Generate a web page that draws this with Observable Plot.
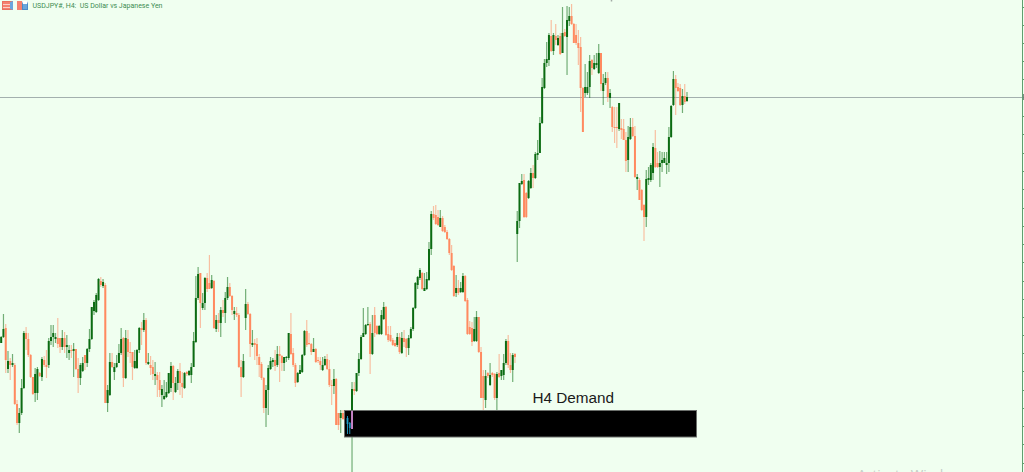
<!DOCTYPE html>
<html><head><meta charset="utf-8">
<script src="https://cdn.jsdelivr.net/npm/d3@7"></script>
<script src="https://cdn.jsdelivr.net/npm/@observablehq/plot@0.6"></script>
<style>
html,body{margin:0;padding:0;background:#f0fff0;overflow:hidden}
#wrap{position:relative;width:1024px;height:472px}
svg{display:block}
.ic{position:absolute;top:1px;height:9px;box-sizing:border-box}
</style></head><body>
<div id="wrap">
<div class="ic" style="left:2px;width:11px;background:repeating-linear-gradient(180deg,#f4806e 0 2px,#fbd0c6 2px 3px);border:1px solid #e8705e;border-right:3px solid #6aa6dc"></div>
<div class="ic" style="left:17px;width:5px;background:#f4806e"></div>
<div class="ic" style="left:22px;width:6px;background:#6aa6dc;border:1px solid #4a8ac8;border-top-width:3px;border-top-color:#fff"></div>
</div>
<script>
// Bars are [open, close, high, low] in chart price points.
const barsA = [
[129,135,136,129],[135,143,158,134],[144,112,148,99],[103,111,121,99],[111,107,114,92],[107,109,118,105],[107,68,109,67],[68,49,72,47],[49,59,64,39],[59,84,93,57],
[84,139,141,83],[139,133,145,122],[133,117,139,115],[117,95,118,94],[95,78,95,77],[79,98,104,70],[79,103,105,72],[99,96,100,95],[95,113,115,91],[112,107,116,105],
[107,105,122,94],[107,131,134,104],[131,135,147,127],[135,139,147,125],[133,135,139,129],[134,128,154,124],[134,125,134,119],[125,134,142,122],[134,125,140,119],[125,127,137,114],
[119,122,127,112],[122,121,127,114],[121,123,129,95],[123,103,123,102],[103,94,114,79],[94,107,109,87],[101,109,115,100],[117,109,117,102],[109,123,124,105],[123,133,143,120],
[133,165,165,132],[161,170,172,157],[160,177,179,159],[172,193,194,171],[191,187,195,185],[186,190,193,184],[187,69,189,69],[69,82,87,60],[77,110,119,76],[110,105,119,104],
[100,105,109,92],[105,109,117,104],[109,119,128,109],[119,133,144,117],[134,94,135,85],[94,134,142,93],[133,120,142,115],[120,119,130,109],[120,105,120,92],[104,111,122,103],
[104,122,123,103],[122,144,145,119],[144,142,150,127],[142,152,159,140],[152,109,154,107],[108,110,119,107],[107,104,116,97],[105,98,112,92],[96,98,110,87],[97,92,100,75],
[92,82,100,75],[77,83,87,65],[73,76,92,72],[75,80,90,74],[79,99,99,78],[84,106,110,80],[106,89,107,72],[80,89,95,79],[89,101,103,82],[101,89,109,77]
];
const barsB = [
[89,85,100,74],[84,99,100,83],[100,98,101,96],[97,101,102,96],[97,105,109,89],[105,131,140,105],[130,174,196,129],[174,198,205,172],[199,169,199,144],[164,169,179,162],
[169,194,195,162],[194,183,199,180],[189,183,217,183],[184,192,197,183],[191,144,192,143],[143,152,157,140],[152,149,159,140],[149,162,165,135],[162,159,172,155],[159,174,180,149],
[174,185,195,172],[185,176,189,175],[176,162,177,157],[158,161,165,152],[159,157,165,155],[157,105,159,104],[105,95,112,75],[95,111,118,94],[154,168,183,142],[168,158,170,157],
[158,128,159,115],[127,129,142,125],[129,127,133,112],[128,116,134,107],[115,107,118,95],[108,94,110,92],[94,64,95,59],[64,82,87,45],[82,104,107,57],[103,111,115,102],
[110,112,114,105],[112,106,122,101],[107,118,126,105],[118,116,126,90],[116,109,117,101],[109,115,115,101],[114,115,116,110],[114,139,139,112],[138,118,159,117],[119,107,124,105],
[107,89,109,85],[90,99,100,89],[98,102,107,98],[100,117,118,99],[117,141,142,116],[141,127,152,125],[129,128,139,127],[128,120,129,117],[120,123,134,120],[123,110,124,109],
[112,111,115,109],[111,107,115,102],[102,107,115,101],[107,113,116,106],[113,103,118,102],[103,87,112,85],[87,86,92,67],[86,93,103,78],[93,47,94,47],[59,47,59,42],
[54,59,62,39],[59,53,62,52],[47,56,60,42],[48,54,56,38],[44,49,50,38]
];
const barsC = [
[44,83,90,0],[83,81,90,77],[81,99,99,80],[99,113,119,96],[113,135,137,112],[135,139,164,135],[138,147,148,137],[147,148,165,146],[148,118,150,98],[118,139,157,117],
[157,139,165,135],[146,138,147,137],[138,146,147,137],[138,157,162,137],[153,165,170,152],[165,137,166,136],[138,132,146,130],[137,131,146,130],[132,127,134,126],[129,126,132,125],
[127,135,139,125],[135,120,139,118],[119,134,140,118],[134,130,142,125],[133,124,134,115],[124,134,137,117],[134,143,145,133],[143,164,165,141],[164,189,190,163],[187,195,196,183],
[194,202,204,192],[199,183,200,182],[181,184,199,181],[183,193,200,182],[192,223,230,191],[223,258,261,217],[258,254,266,252],[257,248,267,247],[255,247,262,246],[245,254,262,245],
[254,241,256,240],[245,240,247,239],[240,233,242,232],[233,219,234,217],[219,202,227,201],[206,176,207,175],[179,184,197,175],[184,179,192,177],[180,184,190,179],[180,196,199,179],
[196,171,197,170],[172,138,174,137],[145,138,151,137],[144,130,150,126],[131,143,155,130],[131,155,161,130],[155,120,155,119],[120,74,125,74],[96,74,102,62],[72,96,102,64],
[99,96,100,94],[87,97,109,86],[99,97,100,95],[98,74,99,72],[74,98,100,61],[99,95,118,94],[96,102,102,92],[97,109,118,92],[109,131,133,107],[131,107,137,104],
[107,102,119,99],[102,117,119,90],[118,115,119,109]
];
const barsD = [
[238,251,261,210],[251,289,289,244],[288,291,298,287],[292,255,298,254],[279,255,280,254],[274,291,292,273],[284,299,304,283],[299,294,307,284],[294,318,320,293],[317,319,332,312],
[319,349,355,319],[349,385,394,348],[384,409,413,383],[409,413,430,405],[412,437,439,406],[436,421,452,420],[421,437,439,417],[436,432,448,427],[427,434,437,426],[436,418,439,417],
[419,439,465,419],[440,436,443,435],[435,452,466,397],[451,456,465,446],[456,448,468,447],[448,429,449,429],[437,429,448,427],[429,424,442,407],[425,384,435,360],[384,340,385,340],
[379,385,408,375],[379,385,400,377],[385,411,417,374],[412,404,413,397],[403,409,417,402],[407,409,419,404],[399,419,428,398],[419,388,419,381],[381,389,398,367],[389,394,400,387],
[394,375,400,370],[374,379,383,364],[365,345,366,340],[345,344,365,329],[345,344,365,324],[343,369,369,341],[344,342,353,333],[343,332,353,332],[332,311,340,300],[312,335,346,300],
[333,345,354,332],[345,336,354,335],[336,295,346,294],[293,295,298,282],[292,272,294,272],[282,262,283,261],[267,255,268,231],[255,293,302,245],[292,294,305,287],[292,307,309,290],
[299,325,329,292],[324,305,342,304],[309,305,320,304],[305,309,321,285],[309,312,320,300],[309,314,320,309],[307,309,320,298],[309,335,345,300],[335,366,367,334],[367,393,401,366],
[393,384,397,357],[385,381,389,380],[384,367,388,366],[367,376,383,359],[376,370,388,368],[371,375,380,370]
];
const axisTicks = [465,447,429,411,393,375,356,338,319,301,283,264,246,228,210,191,173,155,137,119,101,82,64,46,28,9];
const currentPrice = 375;
const zoneLow = 35, zoneHigh = 61.5;
const labelText = "H4 Demand", headerText = "USDJPY#, H4:  US Dollar vs Japanese Yen", watermark = "Activate Windows";

const bars = [...barsA, ...barsB, ...barsC, ...barsD].map(([open, close, high, low], i) => ({
  i, open, close, high, low, dir: close >= open ? "up" : "down"
}));
const big = barsA.length + barsB.length;       // bar whose long tail pierces the demand zone
const inZone = [
  {i: big - 2, top: 56, bottom: 38, c: "#1d8fb5", w: 1},
  {i: big - 2, top: 54, bottom: 48, c: "#1d9fc8", w: 1.8},
  {i: big - 1, top: 50, bottom: 38, c: "#1d8fb5", w: 1},
  {i: big - 1, top: 49, bottom: 44, c: "#1d8fb5", w: 1.8},
  {i: big, top: 61, bottom: 43, c: "#d88fd8", w: 1.8}
];
const step = 685.8 / (bars.length - 1);
const barX = px => (px - 0.7) / step;

const chart = Plot.plot({
  width: 1024, height: 472,
  marginTop: 0, marginBottom: 0, marginLeft: 0, marginRight: 2,
  style: {background: "#f0fff0"},
  x: {domain: [barX(0), barX(1022)], axis: null},
  y: {domain: [0, 472], axis: null},
  color: {domain: ["up", "down"], range: ["#0b6b12", "#ff8a60"]},
  marks: [
    Plot.ruleY([currentPrice], {stroke: "#a3b0ae", strokeWidth: 1}),
    Plot.ruleX(bars, {x: "i", y1: "low", y2: "high", stroke: "dir", strokeWidth: 1.2, strokeOpacity: 0.55}),
    Plot.ruleX(bars, {x: "i", y1: "open", y2: "close", stroke: "dir", strokeWidth: 2}),
    Plot.rect([{}], {x1: barX(344.5), x2: barX(696.5), y1: zoneLow, y2: zoneHigh, fill: "#000", stroke: "#6b6f6b", strokeWidth: 1}),
    Plot.ruleX(inZone, {x: "i", y1: "bottom", y2: "top", stroke: d => d.c, strokeWidth: d => d.w}),
    Plot.text([labelText], {x: barX(532), y: 74, textAnchor: "start", fontFamily: "Liberation Sans", fontSize: 15.3, fill: "#1a1a1a"}),
    Plot.text([headerText], {x: barX(32), y: 467, textAnchor: "start", fontFamily: "Roboto", fontSize: 7, fill: "#3c8c50"}),
    Plot.text([watermark], {x: barX(857), y: -2, textAnchor: "start", fontFamily: "Open Sans", fontSize: 13.5, fill: "#c4ccc6"}),
    Plot.ruleX([barX(611)], {y1: 470.5, y2: 472, stroke: "#a3aaa6", strokeWidth: 1.5}),
    Plot.axisY({anchor: "right", ticks: axisTicks, tickSize: 2, tickFormat: () => "", stroke: "#5f9f6f", label: null}),
    Plot.ruleX([barX(1022)], {stroke: "#5f9f6f", strokeWidth: 1}),
    Plot.ruleX([barX(1023.3)], {y1: currentPrice - 3, y2: currentPrice + 3, stroke: "#70807a", strokeWidth: 1.4})
  ]
});
document.getElementById("wrap").prepend(chart);
</script>
</body></html>
